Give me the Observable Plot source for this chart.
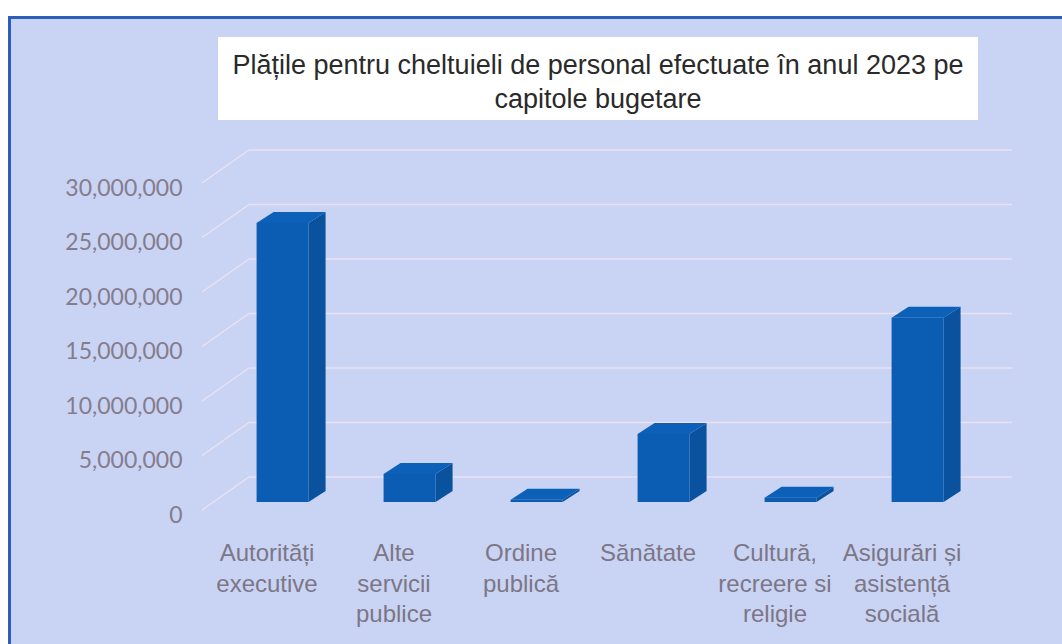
<!DOCTYPE html>
<html>
<head>
<meta charset="utf-8">
<script src="https://cdn.jsdelivr.net/npm/d3@7"></script>
<script src="https://cdn.jsdelivr.net/npm/@observablehq/plot@0.6"></script>
<style>
  html, body { margin: 0; padding: 0; background: #ffffff; overflow: hidden; width: 1062px; height: 644px; }
  #frame { position: absolute; left: 8px; top: 16px; width: 1080px; height: 660px; background: #c9d4f4; border: 3px solid #2d5fb8; box-sizing: border-box; }
  #title { position: absolute; left: 218px; top: 37px; width: 760px; height: 83px; background: #ffffff;
    font-family: "Liberation Sans Narrow", "Liberation Sans", sans-serif; font-size: 27px; line-height: 34px;
    color: #2a2a2a; text-align: center; padding-top: 11px; box-sizing: border-box; }
  #chart { position: absolute; left: 0; top: 0; }
</style>
</head>
<body>
<div id="frame"></div>
<div id="title">Plățile pentru cheltuieli de personal efectuate în anul 2023 pe<br>capitole bugetare</div>
<div id="chart"></div>
<script>
const categories = ["Autorități executive", "Alte servicii publice", "Ordine publică", "Sănătate", "Cultură, recreere si religie", "Asigurări și asistență socială"];
const tickLabels = ["Autorități\nexecutive", "Alte\nservicii\npublice", "Ordine\npublică", "Sănătate", "Cultură,\nrecreere si\nreligie", "Asigurări și\nasistență\nsocială"];
const values = [25600000, 2570000, 200000, 6240000, 400000, 16900000];
const yTicks = [0, 5000000, 10000000, 15000000, 20000000, 25000000, 30000000];

const data = categories.map((c, i) => ({category: c, value: values[i]}));

const W = 1062, H = 644;
const mL = 202, mR = 97, mT = 186, mB = 131;
const depthX = 47, depthY = -36;     // back wall offset
const barOffX = 16, barOffY = -11;   // bar front-face offset
const barDX = 17, barDY = -11;       // bar depth
const barHalf = 26;

function gridRender(index, scales, channels, dimensions) {
  const g = d3.create("svg:g");
  const xl = dimensions.marginLeft, xr = dimensions.width - dimensions.marginRight;
  for (const i of index) {
    const y = scales.y(yTicks[i]);
    g.append("line").attr("x1", xl + depthX).attr("x2", xr + depthX)
      .attr("y1", y + depthY).attr("y2", y + depthY)
      .attr("stroke", "#f1e3f0").attr("stroke-width", 1.6).attr("stroke-opacity", 0.85);
    g.append("line").attr("x1", xl).attr("x2", xl + depthX)
      .attr("y1", y - 3).attr("y2", y + depthY)
      .attr("stroke", "#f1e3f0").attr("stroke-width", 1.4).attr("stroke-opacity", 0.85);
  }
  return g.node();
}

function barsRender(index, scales, channels, dimensions) {
  const g = d3.create("svg:g");
  const step = (dimensions.width - dimensions.marginLeft - dimensions.marginRight) / categories.length;
  for (const i of index) {
    const cx = scales.x(data[i].category) + step / 2 + barOffX;
    const x0 = cx - barHalf, x1 = cx + barHalf;
    const yb = scales.y(0) + barOffY;
    const yt = scales.y(data[i].value) + barOffY;
    // side face
    g.append("path").attr("d", `M${x1},${yb}L${x1 + barDX},${yb + barDY}L${x1 + barDX},${yt + barDY}L${x1},${yt}Z`)
      .attr("fill", "#0a519e");
    // top face
    g.append("path").attr("d", `M${x0},${yt}L${x0 + barDX},${yt + barDY}L${x1 + barDX},${yt + barDY}L${x1},${yt}Z`)
      .attr("fill", "#0d60b8");
    // front face
    g.append("rect").attr("x", x0).attr("y", yt).attr("width", x1 - x0).attr("height", Math.max(0, yb - yt))
      .attr("fill", "#0b5db4");
  }
  return g.node();
}

const chart = Plot.plot({
  width: W, height: H,
  marginLeft: mL, marginRight: mR, marginTop: mT, marginBottom: mB,
  style: {background: "transparent", overflow: "visible"},
  x: {type: "band", domain: categories, padding: 0},
  y: {domain: [0, 30000000]},
  marks: [
    Plot.ruleY(yTicks, {y: d => d, render: gridRender}),
    Plot.barY(data, {x: "category", y: "value", render: barsRender}),
    Plot.axisY({ticks: yTicks, tickFormat: d3.format(","), tickSize: 0, tickPadding: 20, dy: 2,
      fontSize: 23, fill: "#857c8c", label: null,
      fontFamily: "Lato, sans-serif"}),
    Plot.axisX({tickFormat: (d, i) => tickLabels[categories.indexOf(d)], tickSize: 0, tickPadding: 26,
      fontSize: 24, lineHeight: 1.27, fill: "#7d7686", label: null,
      fontFamily: "'Liberation Sans Narrow', sans-serif"})
  ]
});
document.getElementById("chart").appendChild(chart);
</script>
</body>
</html>
